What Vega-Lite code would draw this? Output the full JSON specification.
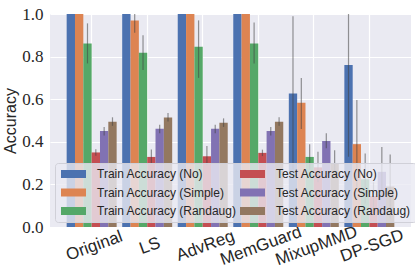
{
  "$schema": "https://vega.github.io/schema/vega-lite/v6.json",
  "autosize": {"type": "none"},
  "padding": {"left": 50, "top": 14, "right": 4, "bottom": 50},
  "width": 361,
  "height": 213,
  "background": "white",
  "config": {
    "view": {"fill": "#EAEAF2", "stroke": null},
    "axis": {"gridColor": "white", "gridWidth": 1.2, "domain": false, "ticks": false}
  },
  "data": {
    "values": [
      {"model": "Original", "series": "Train Accuracy (No)", "value": 1.0, "lo": 1.0, "hi": 1.0},
      {"model": "Original", "series": "Train Accuracy (Simple)", "value": 1.0, "lo": 1.0, "hi": 1.0},
      {"model": "Original", "series": "Train Accuracy (Randaug)", "value": 0.862, "lo": 0.768, "hi": 0.956},
      {"model": "Original", "series": "Test Accuracy (No)", "value": 0.35, "lo": 0.335, "hi": 0.365},
      {"model": "Original", "series": "Test Accuracy (Simple)", "value": 0.451, "lo": 0.43, "hi": 0.47},
      {"model": "Original", "series": "Test Accuracy (Randaug)", "value": 0.494, "lo": 0.475, "hi": 0.515},
      {"model": "LS", "series": "Train Accuracy (No)", "value": 1.0, "lo": 1.0, "hi": 1.0},
      {"model": "LS", "series": "Train Accuracy (Simple)", "value": 0.969, "lo": 0.912, "hi": 1.026},
      {"model": "LS", "series": "Train Accuracy (Randaug)", "value": 0.818, "lo": 0.737, "hi": 0.9},
      {"model": "LS", "series": "Test Accuracy (No)", "value": 0.329, "lo": 0.3, "hi": 0.364},
      {"model": "LS", "series": "Test Accuracy (Simple)", "value": 0.461, "lo": 0.44, "hi": 0.48},
      {"model": "LS", "series": "Test Accuracy (Randaug)", "value": 0.514, "lo": 0.495, "hi": 0.535},
      {"model": "AdvReg", "series": "Train Accuracy (No)", "value": 1.0, "lo": 1.0, "hi": 1.0},
      {"model": "AdvReg", "series": "Train Accuracy (Simple)", "value": 1.0, "lo": 1.0, "hi": 1.0},
      {"model": "AdvReg", "series": "Train Accuracy (Randaug)", "value": 0.846, "lo": 0.7, "hi": 0.97},
      {"model": "AdvReg", "series": "Test Accuracy (No)", "value": 0.332, "lo": 0.29, "hi": 0.38},
      {"model": "AdvReg", "series": "Test Accuracy (Simple)", "value": 0.461, "lo": 0.44, "hi": 0.48},
      {"model": "AdvReg", "series": "Test Accuracy (Randaug)", "value": 0.49, "lo": 0.47, "hi": 0.51},
      {"model": "MemGuard", "series": "Train Accuracy (No)", "value": 1.0, "lo": 1.0, "hi": 1.0},
      {"model": "MemGuard", "series": "Train Accuracy (Simple)", "value": 1.0, "lo": 1.0, "hi": 1.0},
      {"model": "MemGuard", "series": "Train Accuracy (Randaug)", "value": 0.862, "lo": 0.768, "hi": 0.96},
      {"model": "MemGuard", "series": "Test Accuracy (No)", "value": 0.348, "lo": 0.333, "hi": 0.363},
      {"model": "MemGuard", "series": "Test Accuracy (Simple)", "value": 0.451, "lo": 0.43, "hi": 0.47},
      {"model": "MemGuard", "series": "Test Accuracy (Randaug)", "value": 0.494, "lo": 0.475, "hi": 0.515},
      {"model": "MixupMMD", "series": "Train Accuracy (No)", "value": 0.627, "lo": 0.27, "hi": 0.99},
      {"model": "MixupMMD", "series": "Train Accuracy (Simple)", "value": 0.583, "lo": 0.46, "hi": 0.7},
      {"model": "MixupMMD", "series": "Train Accuracy (Randaug)", "value": 0.329, "lo": 0.27, "hi": 0.389},
      {"model": "MixupMMD", "series": "Test Accuracy (No)", "value": 0.28, "lo": 0.21, "hi": 0.353},
      {"model": "MixupMMD", "series": "Test Accuracy (Simple)", "value": 0.404, "lo": 0.37, "hi": 0.44},
      {"model": "MixupMMD", "series": "Test Accuracy (Randaug)", "value": 0.3, "lo": 0.24, "hi": 0.36},
      {"model": "DP-SGD", "series": "Train Accuracy (No)", "value": 0.76, "lo": 0.33, "hi": 1.19},
      {"model": "DP-SGD", "series": "Train Accuracy (Simple)", "value": 0.389, "lo": 0.18, "hi": 0.596},
      {"model": "DP-SGD", "series": "Train Accuracy (Randaug)", "value": 0.224, "lo": 0.11, "hi": 0.345},
      {"model": "DP-SGD", "series": "Test Accuracy (No)", "value": 0.145, "lo": 0.08, "hi": 0.21},
      {"model": "DP-SGD", "series": "Test Accuracy (Simple)", "value": 0.259, "lo": 0.14, "hi": 0.376},
      {"model": "DP-SGD", "series": "Test Accuracy (Randaug)", "value": 0.19, "lo": 0.04, "hi": 0.34}
    ]
  },
  "encoding": {
    "x": {
      "field": "model", "type": "nominal",
      "sort": ["Original", "LS", "AdvReg", "MemGuard", "MixupMMD", "DP-SGD"],
      "scale": {"paddingInner": 0.1, "paddingOuter": 0.3},
      "axis": {
        "title": null, "labelAngle": -20, "labelAlign": "center", "labelBaseline": "top",
        "labelFont": "Liberation Sans", "labelFontSize": 17, "labelColor": "#262626",
        "labelPadding": 11, "grid": true, "bandPosition": 0.5
      }
    },
    "xOffset": {
      "field": "series", "type": "nominal",
      "sort": ["Train Accuracy (No)", "Train Accuracy (Simple)", "Train Accuracy (Randaug)", "Test Accuracy (No)", "Test Accuracy (Simple)", "Test Accuracy (Randaug)"],
      "scale": {"paddingInner": 0, "paddingOuter": 0}
    }
  },
  "layer": [
    {
      "mark": {"type": "bar", "clip": true},
      "encoding": {
        "y": {
          "field": "value", "type": "quantitative",
          "scale": {"domain": [0, 1], "nice": false},
          "axis": {
            "title": "Accuracy", "titleFont": "Liberation Sans", "titleFontSize": 16,
            "titleFontWeight": "normal", "titleColor": "#262626", "titlePadding": 3,
            "values": [0, 0.2, 0.4, 0.6, 0.8, 1.0], "format": ".1f",
            "labelFont": "Liberation Serif", "labelFontSize": 17, "labelColor": "#262626",
            "labelPadding": 7, "grid": true
          }
        },
        "color": {
          "field": "series", "type": "nominal",
          "scale": {
            "domain": ["Train Accuracy (No)", "Train Accuracy (Simple)", "Train Accuracy (Randaug)", "Test Accuracy (No)", "Test Accuracy (Simple)", "Test Accuracy (Randaug)"],
            "range": ["#4C72B0", "#DD8452", "#55A868", "#C44E52", "#8172B3", "#937860"]
          },
          "legend": {
            "title": null, "orient": "none", "legendX": 5, "legendY": 149,
            "columns": 2, "columnPadding": 2, "rowPadding": 6.5,
            "symbolType": "M-1,-0.8H4V0.8H-1Z", "symbolSize": 100,
            "symbolStrokeWidth": 0, "symbolOpacity": 1,
            "labelFont": "Liberation Sans", "labelFontSize": 12, "labelColor": "#262626",
            "labelOffset": 25, "padding": 5,
            "fillColor": "rgba(234,234,242,0.8)", "strokeColor": "#d0d0d8", "cornerRadius": 3
          }
        }
      }
    },
    {
      "mark": {"type": "rule", "clip": true, "color": "#424242", "opacity": 0.55, "strokeWidth": 1.2},
      "encoding": {
        "y": {"field": "lo", "type": "quantitative"},
        "y2": {"field": "hi"}
      }
    }
  ]
}
